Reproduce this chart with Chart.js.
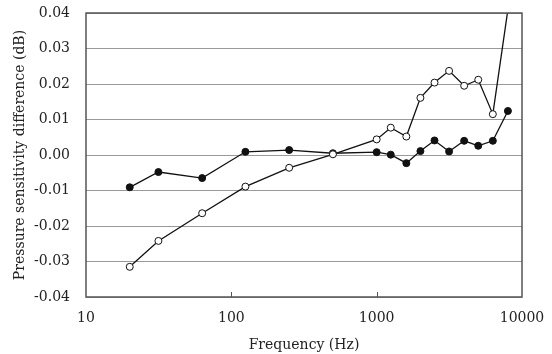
<!DOCTYPE html>
<html lang="en">
<head>
<meta charset="UTF-8">
<title>Pressure sensitivity difference</title>
<script src="https://cdn.jsdelivr.net/npm/chart.js@4"></script>
<style>
    body { margin: 0; background: #ffffff; }
    #wrap { width: 552px; height: 354px; }
</style>
</head>
<body>
<div id="wrap"><canvas id="grafico"></canvas></div>
<script>
// dados
var frequencias = [20, 31.5, 63, 125, 250, 500, 1000, 1250, 1600, 2000, 2500, 3150, 4000, 5000, 6300, 8000];
var serieCheia = [-0.0091, -0.0048, -0.0065, 0.0009, 0.0014, 0.0005, 0.0008, 0.0001, -0.0023, 0.0011, 0.0041, 0.0010, 0.0040, 0.0026, 0.0040, 0.0124];
var serieAberta = [-0.0315, -0.0242, -0.0164, -0.0089, -0.0036, 0.0002, 0.0044, 0.0077, 0.0052, 0.0161, 0.0204, 0.0237, 0.0195, 0.0212, 0.0115, 0.0410];
var ticksX = [10, 100, 1000, 10000];
var ticksY = [-0.04, -0.03, -0.02, -0.01, 0.00, 0.01, 0.02, 0.03, 0.04];

var fonte = "'DejaVu Serif', serif";

function pontos(valores) {
    return frequencias.map(function (f, i) { return { x: f, y: valores[i] }; });
}

// moldura e pequenas marcas no eixo x
var moldura = {
    id: 'moldura',
    afterDraw: function (chart) {
        var ctx = chart.ctx, a = chart.chartArea, sx = chart.scales.x;
        ctx.save();
        ctx.strokeStyle = '#555';
        ctx.lineWidth = 1.5;
        ctx.strokeRect(a.left, a.top, a.right - a.left, a.bottom - a.top);
        ctx.lineWidth = 1;
        [100, 1000].forEach(function (v) {
            var px = Math.round(sx.getPixelForValue(v)) + 0.5;
            ctx.beginPath();
            ctx.moveTo(px, a.bottom);
            ctx.lineTo(px, a.bottom - 5);
            ctx.stroke();
        });
        ctx.restore();
    }
};

new Chart(document.getElementById('grafico'), {
    type: 'line',
    data: {
        datasets: [{
            data: pontos(serieAberta),
            borderColor: '#111',
            borderWidth: 1.3,
            pointRadius: 3.5,
            pointBackgroundColor: '#fff',
            pointBorderColor: '#111',
            pointBorderWidth: 1,
            tension: 0
        }, {
            data: pontos(serieCheia),
            borderColor: '#111',
            borderWidth: 1.3,
            pointRadius: 3.5,
            pointBackgroundColor: '#111',
            pointBorderColor: '#111',
            pointBorderWidth: 1,
            tension: 0
        }]
    },
    options: {
        responsive: true,
        maintainAspectRatio: false,
        animation: false,
        layout: { padding: { left: 12, top: 13, right: 30, bottom: 0 } },
        plugins: { legend: { display: false }, tooltip: { enabled: false } },
        scales: {
            x: {
                type: 'logarithmic',
                min: 10,
                max: 10000,
                afterBuildTicks: function (s) { s.ticks = ticksX.map(function (v) { return { value: v }; }); },
                afterFit: function (s) { s.height = 57; s.paddingLeft = 0; s.paddingRight = 0; },
                grid: { display: false },
                border: { display: false },
                ticks: {
                    color: '#222',
                    font: { family: fonte, size: 14 },
                    padding: 5,
                    maxRotation: 0,
                    callback: function (v) { return String(v); }
                },
                title: {
                    display: true,
                    text: 'Frequency (Hz)',
                    color: '#222',
                    font: { family: fonte, size: 14 },
                    padding: { top: 4, bottom: 0 }
                }
            },
            y: {
                min: -0.04,
                max: 0.04,
                afterBuildTicks: function (s) { s.ticks = ticksY.map(function (v) { return { value: v }; }); },
                afterFit: function (s) { s.width = 74; s.paddingTop = 0; s.paddingBottom = 0; },
                grid: { color: '#999', lineWidth: 1, drawTicks: false },
                border: { display: false },
                ticks: {
                    color: '#222',
                    font: { family: fonte, size: 14 },
                    padding: 16,
                    callback: function (v) { return v.toFixed(2); }
                },
                title: {
                    display: true,
                    text: 'Pressure sensitivity difference (dB)',
                    color: '#222',
                    font: { family: fonte, size: 14 },
                    padding: { top: 0, bottom: 4 }
                }
            }
        }
    },
    plugins: [moldura]
});
</script>
</body>
</html>
